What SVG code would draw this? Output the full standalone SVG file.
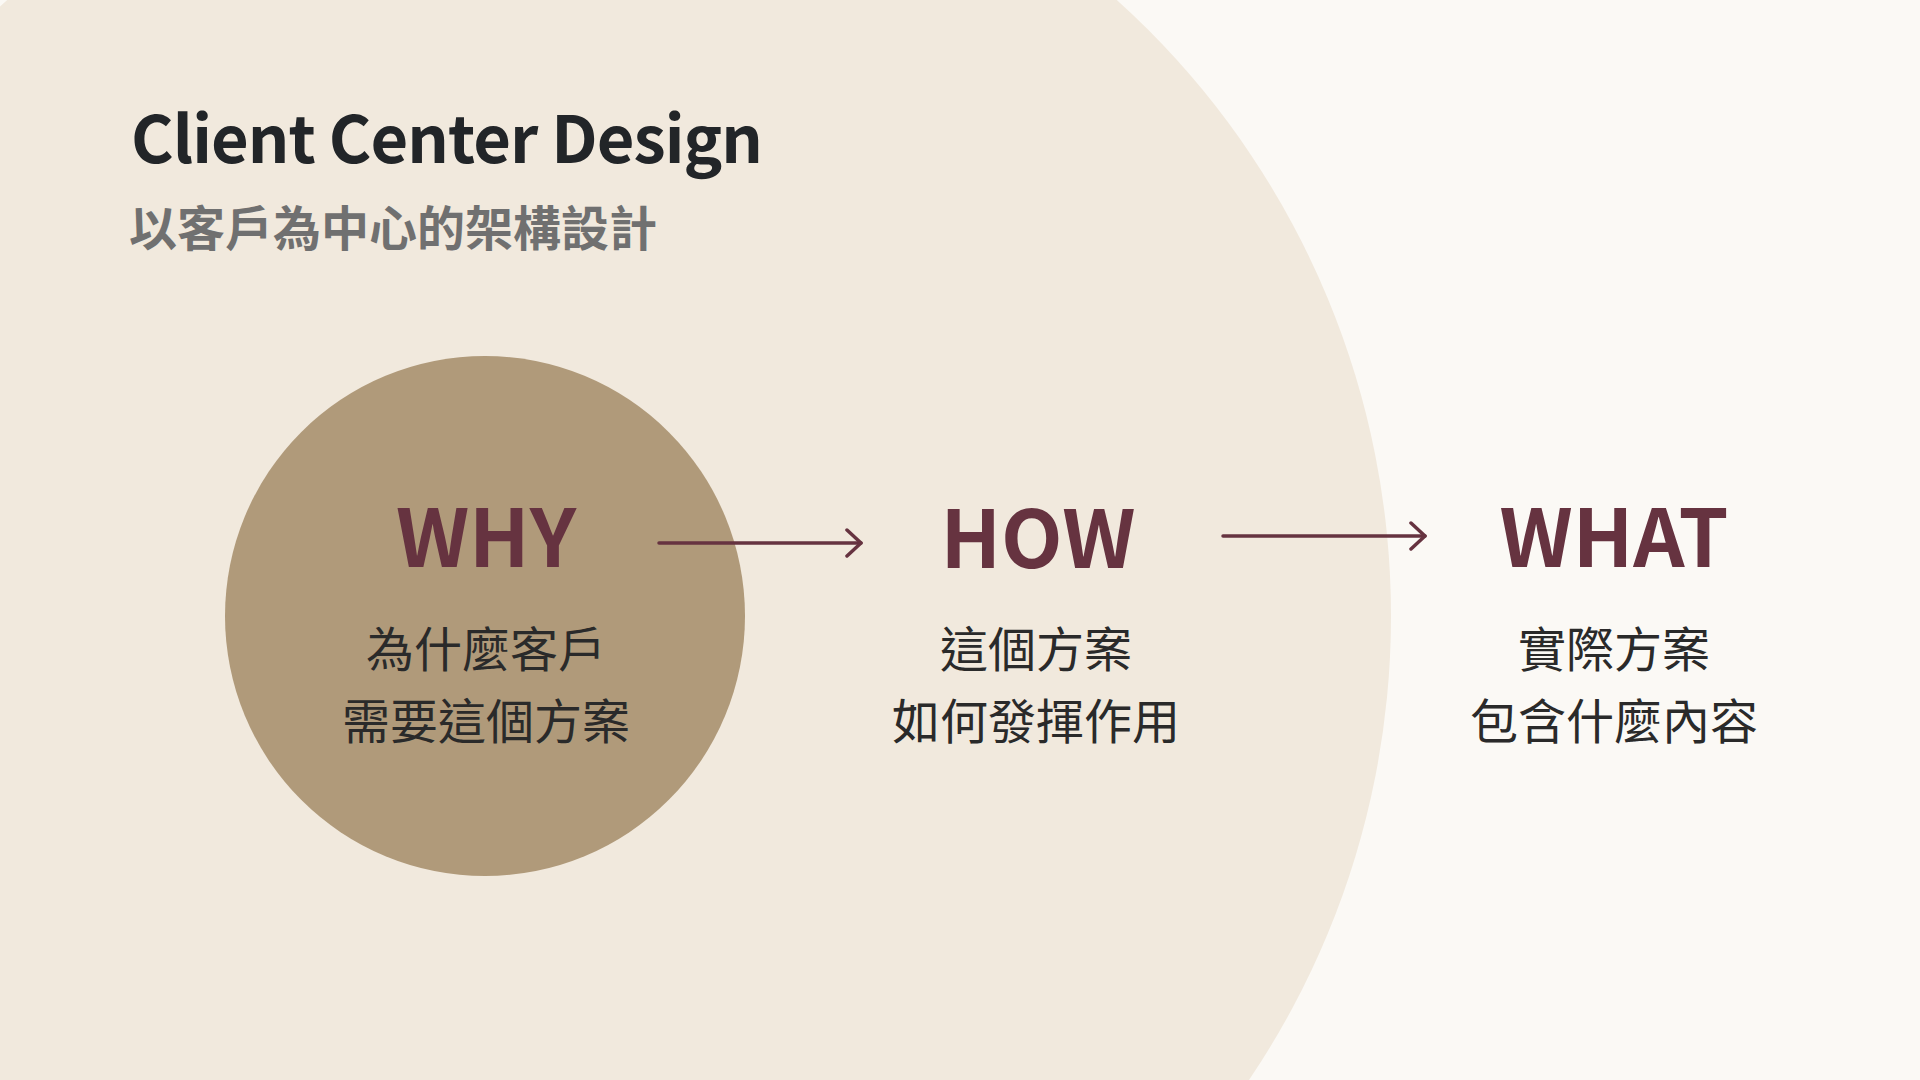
<svg xmlns="http://www.w3.org/2000/svg" width="1920" height="1080" viewBox="0 0 1920 1080">
  <defs>
    <style>
      .title { font-family: "Noto Sans CJK TC", "Noto Sans", sans-serif; font-weight: 700; font-size: 65px; fill: #222528; }
      .subtitle { font-family: "Noto Sans CJK TC", sans-serif; font-weight: 700; font-size: 48px; fill: #707070; }
      .head { font-family: "Noto Sans CJK TC", "Noto Sans", sans-serif; font-weight: 700; font-size: 80px; fill: #663340; text-anchor: middle; }
      .body { font-family: "Noto Sans CJK TC", sans-serif; font-weight: 400; font-size: 48px; fill: #2a2a2a; text-anchor: middle; }
      .conn { stroke: #663340; stroke-width: 3.5; fill: none; stroke-linecap: round; stroke-linejoin: round; }
    </style>
    <marker id="arrow" viewBox="0 0 20 30" refX="17" refY="15" markerWidth="20" markerHeight="30" markerUnits="userSpaceOnUse" orient="auto">
      <path d="M3 2 L17 15 L3 28" fill="none" stroke="#663340" stroke-width="3.5" stroke-linecap="round" stroke-linejoin="round"/>
    </marker>
  </defs>
  <rect width="1920" height="1080" fill="#fbf9f5"/>
  <circle cx="562" cy="616" r="829" fill="#f1e9dd"/>
  <g id="title">
    <text class="title" x="131" y="163" textLength="632">Client Center Design</text>
    <text class="subtitle" x="129" y="246">以客戶為中心的架構設計</text>
  </g>
  <g id="why">
    <circle cx="485" cy="616" r="260" fill="#b09a7a"/>
    <text class="head" x="486" y="567">WHY</text>
    <text class="body" x="486" y="667">為什麼客戶</text>
    <text class="body" x="486" y="739">需要這個方案</text>
  </g>
  <g id="how">
    <text class="head" x="1038" y="568">HOW</text>
    <text class="body" x="1036" y="667">這個方案</text>
    <text class="body" x="1036" y="739">如何發揮作用</text>
  </g>
  <g id="what">
    <text class="head" x="1614" y="567">WHAT</text>
    <text class="body" x="1614" y="667">實際方案</text>
    <text class="body" x="1614" y="739">包含什麼內容</text>
  </g>
  <g id="connectors">
    <line class="conn" x1="659" y1="543" x2="861" y2="543" marker-end="url(#arrow)"/>
    <line class="conn" x1="1223" y1="536" x2="1425" y2="536" marker-end="url(#arrow)"/>
  </g>
</svg>
